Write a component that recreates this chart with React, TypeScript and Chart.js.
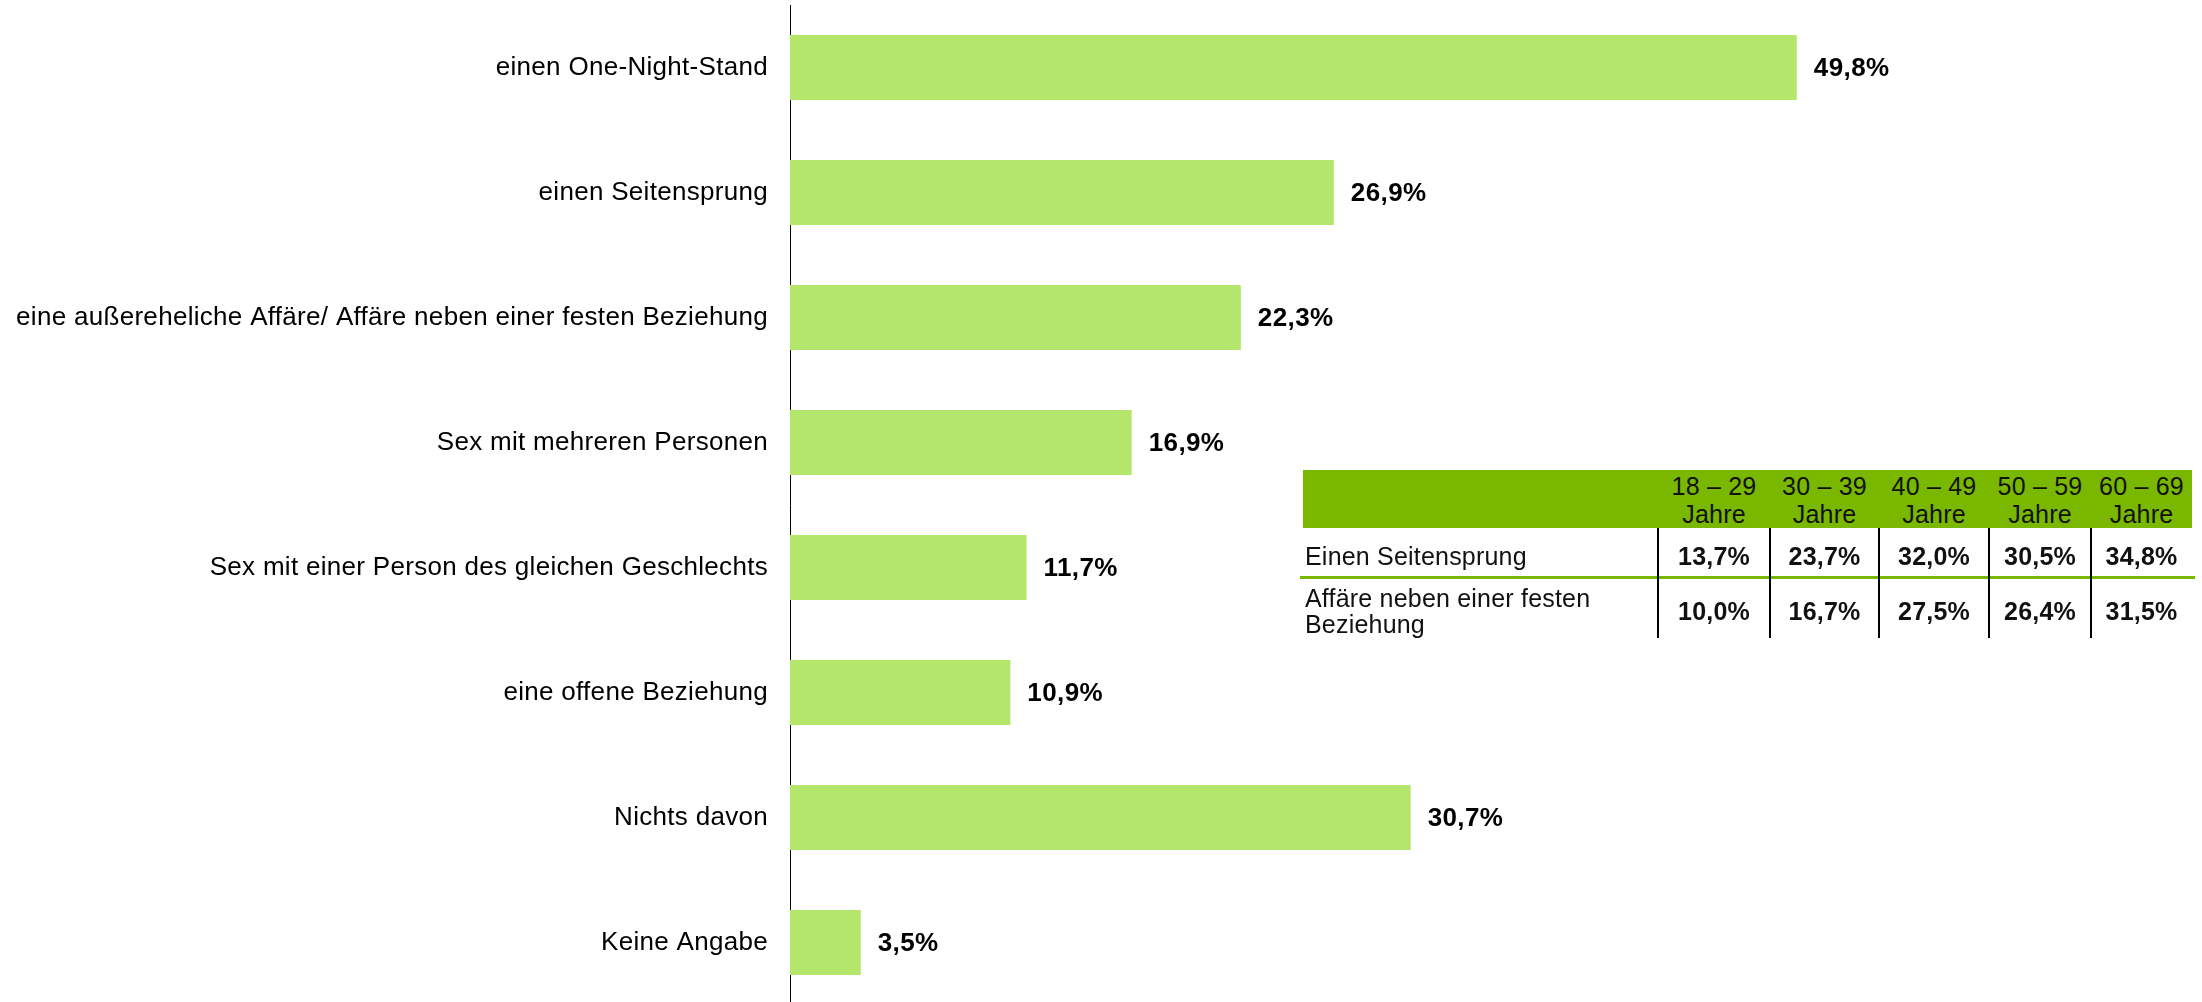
import React, { useEffect, useRef } from "react";
import { Chart, registerables } from "chart.js";

Chart.register(...registerables);

const categories = [
  "einen One-Night-Stand",
  "einen Seitensprung",
  "eine außereheliche Affäre/ Affäre neben einer festen Beziehung",
  "Sex mit mehreren Personen",
  "Sex mit einer Person des gleichen Geschlechts",
  "eine offene Beziehung",
  "Nichts davon",
  "Keine Angabe",
];
const values = [49.8, 26.9, 22.3, 16.9, 11.7, 10.9, 30.7, 3.5];

const ageGroups = ["18 – 29", "30 – 39", "40 – 49", "50 – 59", "60 – 69"];
const ageSuffix = "Jahre";
const tableRowLabels = ["Einen Seitensprung", "Affäre neben einer festen Beziehung"];
const seitensprungByAge = [13.7, 23.7, 32.0, 30.5, 34.8];
const affaereByAge = [10.0, 16.7, 27.5, 26.4, 31.5];

const FONT = "'Liberation Sans', Arial, Helvetica, sans-serif";
const BAR_COLOR = "rgb(179,230,107)";
const HEADER_GREEN = "rgb(122,184,0)";

const fmt = (v: number) => v.toFixed(1).replace(".", ",") + "%";

const letterSpacingPlugin = {
  id: "letterSpacing",
  beforeLayout(chart: any) {
    chart.ctx.letterSpacing = "0.3px";
  },
  beforeDraw(chart: any) {
    chart.ctx.letterSpacing = "0.3px";
  },
};

const valueLabelPlugin = {
  id: "valueLabels",
  afterDatasetsDraw(chart: any) {
    const ctx = chart.ctx;
    const meta = chart.getDatasetMeta(0);
    ctx.save();
    ctx.letterSpacing = "0.4px";
    ctx.font = `bold 26px ${FONT}`;
    ctx.fillStyle = "#000";
    ctx.textAlign = "left";
    ctx.textBaseline = "middle";
    meta.data.forEach((bar: any, i: number) => {
      const v = chart.data.datasets[0].data[i] as number;
      ctx.fillText(fmt(v), bar.x + 17, bar.y + 1);
    });
    ctx.restore();
  },
};

const colWidths = [355, 112, 109, 110, 102, 101];
const colLefts = colWidths.reduce<number[]>((acc, w, i) => {
  acc.push(i === 0 ? 0 : acc[i - 1] + colWidths[i - 1]);
  return acc;
}, []);
const TABLE_LEFT = 1303;
const TABLE_TOP = 470;
const HEADER_H = 58;
const ROW1_H = 50;
const ROW2_H = 60;
const TABLE_W = colWidths.reduce((a, b) => a + b, 0);

function DataTable() {
  const textStyle: React.CSSProperties = {
    fontFamily: FONT,
    fontSize: 25,
    letterSpacing: "0.2px",
    color: "#111",
  };
  const rows = [
    { label: tableRowLabels[0], vals: seitensprungByAge, top: HEADER_H, h: ROW1_H },
    { label: tableRowLabels[1], vals: affaereByAge, top: HEADER_H + ROW1_H, h: ROW2_H },
  ];
  return (
    <div
      style={{
        position: "absolute",
        left: TABLE_LEFT,
        top: TABLE_TOP,
        width: TABLE_W,
        height: HEADER_H + ROW1_H + ROW2_H,
        ...textStyle,
      }}
    >
      <div
        style={{
          position: "absolute",
          left: 0,
          top: 0,
          width: TABLE_W,
          height: HEADER_H,
          background: HEADER_GREEN,
        }}
      />
      {ageGroups.map((g, i) => (
        <div
          key={g}
          style={{
            position: "absolute",
            left: colLefts[i + 1],
            top: 2,
            width: colWidths[i + 1],
            height: HEADER_H,
            textAlign: "center",
            lineHeight: "28px",
            whiteSpace: "nowrap",
          }}
        >
          {g}
          <br />
          {ageSuffix}
        </div>
      ))}
      {rows.map((r) => (
        <React.Fragment key={r.label}>
          <div
            style={{
              position: "absolute",
              left: 2,
              top: r.top + 3,
              width: colWidths[0] - 4,
              height: r.h,
              display: "flex",
              alignItems: "center",
              lineHeight: "26px",
            }}
          >
            {r.label}
          </div>
          {r.vals.map((v, i) => (
            <div
              key={i}
              style={{
                position: "absolute",
                left: colLefts[i + 1],
                top: r.top + 3,
                width: colWidths[i + 1],
                height: r.h,
                display: "flex",
                alignItems: "center",
                justifyContent: "center",
                fontWeight: "bold",
              }}
            >
              {fmt(v)}
            </div>
          ))}
        </React.Fragment>
      ))}
      <div
        style={{
          position: "absolute",
          left: -3,
          top: HEADER_H + ROW1_H - 2,
          width: TABLE_W + 6,
          height: 3,
          background: HEADER_GREEN,
        }}
      />
      {ageGroups.map((g, i) => (
        <div
          key={"v" + g}
          style={{
            position: "absolute",
            left: colLefts[i + 1] - 1,
            top: HEADER_H,
            width: 2,
            height: ROW1_H + ROW2_H,
            background: "#000",
          }}
        />
      ))}
    </div>
  );
}

export default function App() {
  const canvasRef = useRef<HTMLCanvasElement | null>(null);

  useEffect(() => {
    if (!canvasRef.current) return;
    const chart = new Chart(canvasRef.current, {
      type: "bar",
      data: {
        labels: categories,
        datasets: [
          {
            data: values,
            backgroundColor: BAR_COLOR,
            borderWidth: 0,
            categoryPercentage: 1,
            barPercentage: 0.52,
          },
        ],
      },
      options: {
        indexAxis: "y",
        animation: false,
        responsive: false,
        devicePixelRatio: 1,
        layout: { padding: { top: 5, bottom: 3, left: 0, right: 199 } },
        plugins: {
          legend: { display: false },
          tooltip: { enabled: false },
          title: { display: false },
        },
        scales: {
          x: {
            type: "linear",
            min: 0,
            max: 60,
            display: false,
          },
          y: {
            type: "category",
            offset: true,
            grid: { display: false, drawTicks: false },
            border: { display: true, color: "#000", width: 1 },
            ticks: {
              padding: 22,
              color: "#000",
              font: { family: FONT, size: 26 },
            },
            afterFit: (scale: any) => {
              scale.width = 790;
              scale.paddingTop = 0;
              scale.paddingBottom = 0;
            },
          },
        },
      },
      plugins: [letterSpacingPlugin, valueLabelPlugin],
    } as any);
    return () => chart.destroy();
  }, []);

  return (
    <div
      style={{
        position: "absolute",
        left: 0,
        top: 0,
        width: 2202,
        height: 1002,
        overflow: "hidden",
        background: "#fff",
      }}
    >
      <canvas
        ref={canvasRef}
        width={2202}
        height={1008}
        style={{ position: "absolute", left: 0, top: 0, width: 2202, height: 1008 }}
      />
      <DataTable />
    </div>
  );
}
